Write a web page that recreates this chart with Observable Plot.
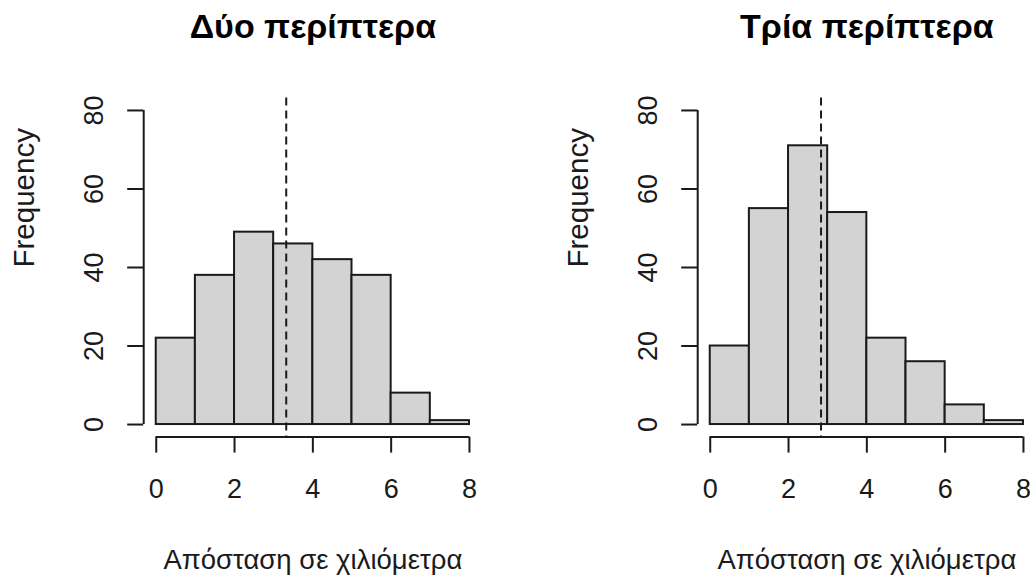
<!DOCTYPE html>
<html>
<head>
<meta charset="utf-8">
<script src="https://cdn.jsdelivr.net/npm/d3@7"></script>
<script src="https://cdn.jsdelivr.net/npm/@observablehq/plot@0.6"></script>
<style>
  html, body { margin: 0; padding: 0; background: #ffffff; }
  #wrap { position: relative; width: 1030px; height: 578px; overflow: hidden; background: #ffffff; }
  .panel { position: absolute; top: 0; width: 554px; height: 578px; }
  .panel svg { max-width: none !important; display: block; }
</style>
</head>
<body>
<div id="wrap">
  <div class="panel" id="p1" style="left:0px"></div>
  <div class="panel" id="p2" style="left:553.6px"></div>
</div>
<script>
// ---- data ----
const binEdges = [0, 1, 2, 3, 4, 5, 6, 7, 8];
const countsTwo = [22, 38, 49, 46, 42, 38, 8, 1];
const countsThree = [20, 55, 71, 54, 22, 16, 5, 1];
const meanTwo = 3.32;
const meanThree = 2.83;
const xTicks = [0, 2, 4, 6, 8];
const yTicks = [0, 20, 40, 60, 80];
const titleTwo = "Δύο περίπτερα";
const titleThree = "Τρία περίπτερα";
const xLabel = "Απόσταση σε χιλιόμετρα";
const yLabel = "Frequency";

const ink = "#1a1a1a";
const font = "'Liberation Sans', Arial, sans-serif";

function panel(title, counts, mean) {
  const bins = counts.map((c, i) => ({x1: binEdges[i], x2: binEdges[i + 1], count: c}));
  const xr = [xTicks[0], xTicks[xTicks.length - 1]];
  const yr = [yTicks[0], yTicks[yTicks.length - 1]];
  const xd = [xr[0] - 0.04 * (xr[1] - xr[0]), xr[1] + 0.04 * (xr[1] - xr[0])];
  const yd = [yr[0] - 0.04 * (yr[1] - yr[0]), yr[1] + 0.04 * (yr[1] - yr[0])];
  return Plot.plot({
    width: 554,
    height: 578,
    marginLeft: 143.2,
    marginRight: 72.5,
    marginTop: 97.4,
    marginBottom: 141.4,
    x: {domain: xd, axis: null},
    y: {domain: yd, axis: null},
    style: {fontFamily: font, background: "transparent", color: ink, overflow: "visible", maxWidth: "none"},
    marks: [
      Plot.rectY(bins, {x1: "x1", x2: "x2", y: "count", fill: "#d3d3d3", stroke: ink, strokeWidth: 2}),
      Plot.ruleX([mean], {stroke: ink, strokeWidth: 2, strokeDasharray: "8,5"}),
      Plot.ruleX([xd[0]], {y1: yr[0], y2: yr[1], stroke: ink, strokeWidth: 2}),
      Plot.ruleY([yd[0]], {x1: xr[0], x2: xr[1], stroke: ink, strokeWidth: 2}),
      Plot.axisX({ticks: xTicks, label: null, tickSize: 16, tickPadding: 26, fontSize: 27, strokeWidth: 2, tickFormat: d => String(d)}),
      Plot.axisY({ticks: yTicks, label: null, tickSize: 16, tickPadding: 25, tickRotate: -90, fontSize: 27, strokeWidth: 2, tickFormat: d => String(d)}),
      Plot.text([title], {text: d => d, frameAnchor: "top", dy: -70.4, fontWeight: "bold", fontSize: 34, lineAnchor: "middle", fill: "#000"}),
      Plot.text([xLabel], {text: d => d, frameAnchor: "bottom", dy: 123.4, fontSize: 27.5, lineAnchor: "middle", fill: ink}),
      Plot.text([yLabel], {text: d => d, frameAnchor: "left", dx: -119.5, rotate: -90, fontSize: 29.5, lineAnchor: "middle", fill: ink})
    ]
  });
}

document.getElementById("p1").appendChild(panel(titleTwo, countsTwo, meanTwo));
document.getElementById("p2").appendChild(panel(titleThree, countsThree, meanThree));
</script>
</body>
</html>
